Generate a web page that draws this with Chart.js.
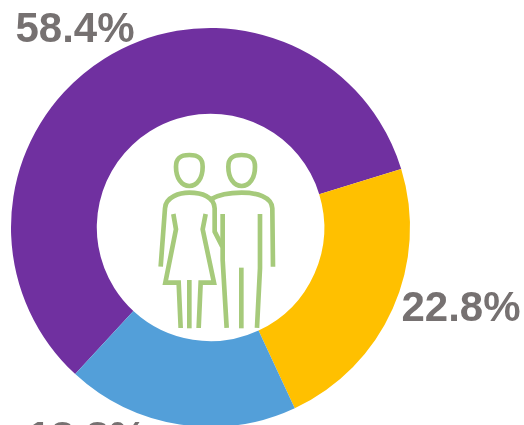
<!DOCTYPE html>
<html><head><meta charset="utf-8">
<script src="https://cdn.jsdelivr.net/npm/chart.js@4"></script>
<style>
html,body{margin:0;padding:0;background:#fff;width:524px;height:425px;overflow:hidden}
#wrap{position:relative;width:524px;height:460px}
#icon{position:absolute;left:0;top:0;pointer-events:none}
</style></head><body>
<div id="wrap"><canvas id="c" width="524" height="460"></canvas>
<svg id="icon" width="524" height="460" viewBox="0 0 524 460">
<g transform="translate(140 140) scale(0.3333)" fill="none" stroke="#A6CA7B" stroke-width="14">
<path d="M148 45C120 45 108 55 108 80C108 115 125 138 148 138C171 138 188 115 188 80C188 55 176 45 148 45Z"/>
<path d="M305 45C277 45 265 55 265 80C265 115 282 138 305 138C328 138 345 115 345 80C345 55 333 45 305 45Z"/>
<path d="M62 380L75 205C77 170 120 158 148 158C185 158 222 170 224 205L224 275L247 320"/>
<path d="M100 222L108 268L76 428L116 428L122 564"/>
<path d="M197 222L188 268L222 428L182 428L176 564"/>
<path d="M148 420L148 565"/>
<path d="M212 178C240 162 280 158 305 158C350 158 395 170 397 205L399 380"/>
<path d="M248 222L248 360L260 564"/>
<path d="M360 222L360 385L351 564"/>
<path d="M304 383L304 565"/>
</g></svg></div>
<script>
const categories = ["Purple group", "Yellow group", "Blue group"];
const values = [58.4, 22.8, 18.8];
const percentLabels = ["58.4%", "22.8%", "18.8%"];
const colors = ["#7030A0", "#FFC000", "#539FD9"];

const labelAnchors = [[75, 30], [461, 309], [87, 439]];
const labelPlugin = {
  id: "pctLabels",
  afterDatasetsDraw(chart) {
    const ctx = chart.ctx;
    ctx.save();
    ctx.font = "bold 42px 'Liberation Sans', Arial, sans-serif";
    ctx.fillStyle = "#767171";
    ctx.textAlign = "center";
    ctx.textBaseline = "middle";
    percentLabels.forEach((t, i) => ctx.fillText(t, labelAnchors[i][0], labelAnchors[i][1]));
    ctx.restore();
  }
};
new Chart(document.getElementById("c"), {
  type: "doughnut",
  data: { labels: categories, datasets: [{ data: values, backgroundColor: colors, borderWidth: 0 }] },
  options: {
    responsive: false,
    animation: false,
    cutout: "57%",
    rotation: 222.7,
    layout: { padding: { left: 11, right: 114, top: 28, bottom: 33 } },
    plugins: { legend: { display: false }, tooltip: { enabled: false } }
  },
  plugins: [labelPlugin]
});
</script></body></html>
